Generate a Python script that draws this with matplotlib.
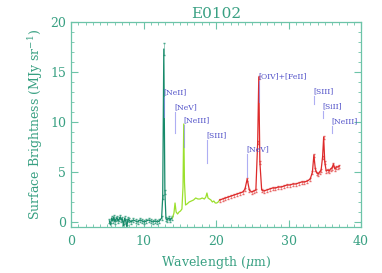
import numpy as np
import matplotlib
matplotlib.use('Agg')
import matplotlib.pyplot as plt
from matplotlib.ticker import MultipleLocator

plt.rcParams['font.family'] = 'DejaVu Serif'
plt.rcParams['mathtext.fontset'] = 'dejavuserif'

# SL module (teal)
sl_wl = [5.3, 5.45, 5.6, 5.75, 5.9, 6.05, 6.2, 6.35, 6.5, 6.65, 6.8, 6.95, 7.1, 7.25,
         7.4, 7.55, 7.7, 7.85, 8.0, 8.3, 8.6, 8.9, 9.2, 9.5, 9.8, 10.1, 10.4, 10.7,
         11.0, 11.3, 11.6, 11.9, 12.2, 12.5, 12.65, 12.8, 12.95, 13.1, 13.3, 13.5,
         13.7, 13.9]
sl_flux = [0.1, -0.3, 0.4, 0.1, 0.5, 0.0, 0.3, 0.4, 0.1, 0.3, 0.5, 0.2, 0.3, -0.4,
           0.4, 0.1, -0.5, 0.3, 0.2, 0.0, 0.2, 0.1, 0.0, 0.2, 0.1, 0.0, 0.1, 0.2,
           0.1, 0.0, 0.1, 0.0, 0.1, 0.4, 2.5, 17.3, 3.0, 0.3, 0.2, 0.4, 0.2, 0.4]
sl_err = [0.2] * 35 + [0.6] + [0.2] * 6

# LL2 module (light green)
ll2_wl = [14.0, 14.2, 14.35, 14.5, 14.7, 14.9, 15.1, 15.3, 15.45, 15.55, 15.65, 15.8,
          16.0, 16.3, 16.6, 16.9, 17.2, 17.5, 17.8, 18.1, 18.4, 18.6, 18.75, 18.9,
          19.1, 19.3, 19.5, 19.7, 19.9, 20.1, 20.3, 20.5]
ll2_flux = [0.4, 0.9, 1.9, 1.0, 0.8, 1.0, 1.1, 1.3, 3.5, 9.8, 4.0, 1.7,
            1.8, 2.0, 2.1, 2.2, 2.4, 2.3, 2.3, 2.4, 2.3, 2.5, 2.9, 2.4,
            2.3, 2.2, 2.0, 2.1, 1.9, 1.9, 2.0, 2.2]

# LL1 module (red)
ll1_wl = [20.5, 20.9, 21.3, 21.7, 22.1, 22.5, 22.9, 23.3, 23.7, 24.0, 24.3, 24.6,
          24.9, 25.2, 25.5, 25.75, 25.9, 26.05, 26.3, 26.6, 27.0, 27.4, 27.8, 28.2,
          28.6, 29.0, 29.4, 29.8, 30.2, 30.6, 31.0, 31.4, 31.8, 32.2, 32.6, 33.0,
          33.3, 33.5, 33.7, 33.9, 34.1, 34.3, 34.5, 34.7, 34.85, 35.0, 35.2, 35.4,
          35.6, 35.8, 36.0, 36.2, 36.4, 36.6, 36.8, 37.0]
ll1_flux = [2.2, 2.3, 2.4, 2.5, 2.6, 2.7, 2.8, 2.9, 3.0, 3.3, 4.3, 3.2,
            3.0, 3.1, 3.2, 8.0, 14.5, 6.0, 3.2, 3.1, 3.2, 3.3, 3.4, 3.4,
            3.5, 3.5, 3.6, 3.7, 3.7, 3.8, 3.8, 3.9, 4.0, 4.0, 4.1, 4.3,
            5.0, 6.7, 5.3, 4.9, 4.8, 5.0, 5.2, 6.5, 8.5, 6.0, 5.1, 5.2,
            5.1, 5.3, 5.4, 5.8, 5.3, 5.5, 5.5, 5.6]
ll1_err = [0.15] * 56

# line identifications
line_names = ['[NeII]', '[NeV]', '[NeIII]', '[SIII]', '[NeV]', '[OIV]+[FeII]',
              '[SIII]', '[SiII]', '[NeIII]']
line_wl = [12.81, 14.32, 15.56, 18.71, 24.32, 25.9, 33.48, 34.82, 36.01]
label_y = [13.0, 11.5, 10.2, 8.7, 7.3, 14.6, 13.1, 11.6, 10.1]
line_lo = [10.5, 8.9, 7.5, 5.9, 4.5, 12.0, 11.8, 10.4, 8.9]

axis_col = '#6cc4a8'
text_col = '#38a082'

fig = plt.figure(figsize=(3.82, 2.73), dpi=100)
ax = fig.add_axes([71 / 382, 1 - 227 / 273, 290 / 382, 205 / 273])

ax.errorbar(sl_wl, sl_flux, yerr=sl_err, color='#178a6a', lw=0.9,
            ecolor='#4aa88c', elinewidth=0.4, capsize=0.8, zorder=2)
ax.plot(ll2_wl, ll2_flux, color='#9be02c', lw=0.9, zorder=2)
ax.errorbar(ll1_wl, ll1_flux, yerr=ll1_err, color='#dd2a2a', lw=0.9,
            ecolor='#e86a6a', elinewidth=0.4, capsize=0.8, zorder=2)

for name, wl, ly, lo in zip(line_names, line_wl, label_y, line_lo):
    ax.plot([wl, wl], [ly - 0.45, lo], color='#8c8cee', lw=0.8, alpha=0.7, zorder=3)
    ax.text(wl - 0.1, ly, name, color='#5050c8', fontsize=5.5,
            ha='left', va='center', zorder=4)

ax.set_xlim(0, 40)
ax.set_ylim(-0.5, 20)
ax.xaxis.set_major_locator(MultipleLocator(10))
ax.xaxis.set_minor_locator(MultipleLocator(1))
ax.yaxis.set_major_locator(MultipleLocator(5))
ax.yaxis.set_minor_locator(MultipleLocator(1))
ax.tick_params(which='both', direction='in', top=True, right=True,
               color=axis_col, labelcolor=text_col, labelsize=9)
ax.tick_params(which='major', length=5, width=0.8)
ax.tick_params(which='minor', length=2.5, width=0.6)
ax.tick_params(axis='x', pad=6)
for sp in ax.spines.values():
    sp.set_color(axis_col)
    sp.set_linewidth(0.9)

ax.set_xlabel('Wavelength ($\\mu$m)', color=text_col, fontsize=9)
ax.set_ylabel('Surface Brightness (MJy sr$^{-1}$)', color=text_col, fontsize=9)
ax.set_title('E0102', color=text_col, fontsize=11, pad=3)

fig.savefig('out.png', dpi=100)
